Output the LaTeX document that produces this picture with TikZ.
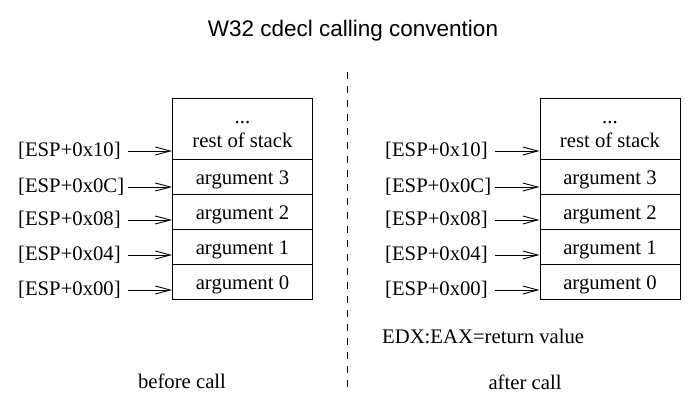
\documentclass[tikz,border=0pt]{standalone}
\usepackage{fontspec}
\setmainfont{Liberation Serif}
\newfontfamily\titlefont{Liberation Sans}
\usetikzlibrary{arrows.meta}
\begin{document}
\begin{tikzpicture}[x=1pt,y=-1pt,
  cell/.style={draw,line width=0.9pt,minimum width=140pt,minimum height=35pt,inner sep=0pt,anchor=north west},
  topcell/.style={cell,minimum height=61pt},
  ctext/.style={anchor=base,inner sep=0pt,font=\fontsize{20.7}{22}\selectfont},
  lab/.style={anchor=west,inner sep=0pt,text width=110pt,align=left,font=\fontsize{20.7}{22}\selectfont},
  txt/.style={inner sep=0pt,font=\fontsize{20.7}{22}\selectfont},
  arr/.style={line width=0.9pt,-{Straight Barb[length=15pt,width=8pt,line width=0.9pt]}},
  sep/.style={line width=1pt,dash pattern=on 7pt off 7pt}]
\useasboundingbox (0,0) rectangle (699,406);
\node[font=\titlefont\fontsize{22.5}{24}\selectfont,inner sep=0pt] (title) at (353,31) {W32 cdecl calling convention};
\coordinate (s1) at (347,72);
\coordinate (s2) at (347,390);
\draw[sep] (s1) -- (s2);
% left stack
\node[topcell] (La) at (172,98) {};
\node[cell] (L3) at (172,159) {};
\node[cell] (L2) at (172,194) {};
\node[cell] (L1) at (172,229) {};
\node[cell] (L0) at (172,264) {};
\node[ctext] (Lad) at ([yshift=36pt]La.south) {...};
\node[ctext] (Lat) at ([yshift=12.5pt]La.south) {rest of stack};
\node[ctext] (L3t) at ([yshift=10.5pt]L3.south) {argument 3};
\node[ctext] (L2t) at ([yshift=10.5pt]L2.south) {argument 2};
\node[ctext] (L1t) at ([yshift=10.5pt]L1.south) {argument 1};
\node[ctext] (L0t) at ([yshift=10.5pt]L0.south) {argument 0};
\node[lab] (la) at (18,151) {[ESP+0x10]};
\node[lab] (l3) at (18,187) {[ESP+0x0C]};
\node[lab] (l2) at (18,220) {[ESP+0x08]};
\node[lab] (l1) at (18,255) {[ESP+0x04]};
\node[lab] (l0) at (18,290) {[ESP+0x00]};
\foreach \a/\b in {la/La,l3/L3,l2/L2,l1/L1,l0/L0}
  \draw[arr] (\a.east) -- (\a.east -| \b.west);
\node[txt] (before) at (182,381) {before call};
% right stack
\node[topcell] (Ra) at (539.5,98) {};
\node[cell] (R3) at (539.5,159) {};
\node[cell] (R2) at (539.5,194) {};
\node[cell] (R1) at (539.5,229) {};
\node[cell] (R0) at (539.5,264) {};
\node[ctext] (Rad) at ([yshift=36pt]Ra.south) {...};
\node[ctext] (Rat) at ([yshift=12.5pt]Ra.south) {rest of stack};
\node[ctext] (R3t) at ([yshift=10.5pt]R3.south) {argument 3};
\node[ctext] (R2t) at ([yshift=10.5pt]R2.south) {argument 2};
\node[ctext] (R1t) at ([yshift=10.5pt]R1.south) {argument 1};
\node[ctext] (R0t) at ([yshift=10.5pt]R0.south) {argument 0};
\node[lab] (ra) at (385,151) {[ESP+0x10]};
\node[lab] (r3) at (385,187) {[ESP+0x0C]};
\node[lab] (r2) at (385,220) {[ESP+0x08]};
\node[lab] (r1) at (385,255) {[ESP+0x04]};
\node[lab] (r0) at (385,290) {[ESP+0x00]};
\foreach \a/\b in {ra/Ra,r3/R3,r2/R2,r1/R1,r0/R0}
  \draw[arr] (\a.east) -- (\a.east -| \b.west);
\node[txt,anchor=west] (ret) at (382,336) {EDX:EAX=return value};
\node[txt] (after) at (525,382) {after call};
\end{tikzpicture}
\end{document}
